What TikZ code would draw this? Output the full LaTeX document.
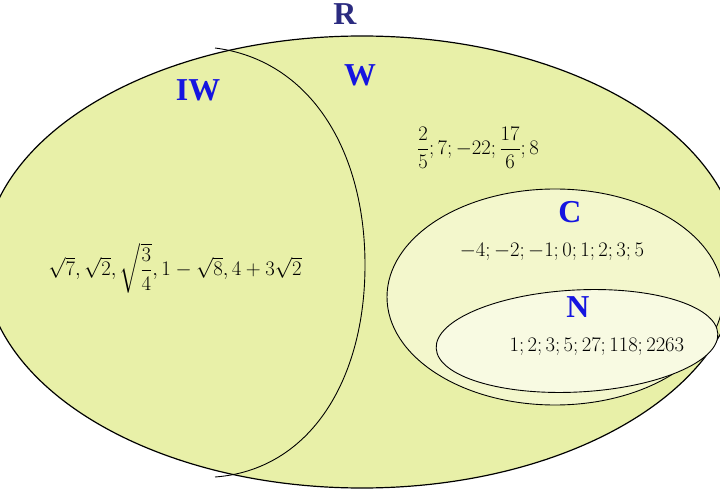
\documentclass[tikz,border=0pt]{standalone}
\usepackage{amsmath}
\usepackage{fontspec}
\setmainfont{Liberation Serif}
\usepackage{tikz}
\definecolor{setR}{HTML}{E8F0A8}
\definecolor{setC}{HTML}{F3F7CC}
\definecolor{setN}{HTML}{F8FAE2}
\definecolor{navy}{HTML}{2B2B80}
\definecolor{lblue}{HTML}{1515E0}
\tikzset{
  setline/.style={draw=black, line width=0.9pt},
  setname/.style={font=\fontsize{32}{34}\selectfont\bfseries, text=lblue},
  elems/.style={font=\fontsize{20}{24}\selectfont}
}
\begin{document}
\begin{tikzpicture}[x=1bp,y=-1bp]
        \useasboundingbox (0,0) rectangle (720,500);
        %ELLIPS R
        \coordinate (cR) at (362,262);
        \begin{scope}
          \clip (0,0) rectangle (720,500);
          \fill[setR] (cR) ellipse [x radius=378, y radius=226];
          \draw[setline, line width=1.2pt] (cR) ellipse [x radius=378, y radius=226];
          %IW
          \draw[setline] (215,48) .. controls (310,60) and (365,150) .. (365,265) .. controls (365,380) and (310,470) .. (215,477);
          %C dan N
          \draw[setline, fill=setC] (555,297) ellipse [x radius=168, y radius=108];
          \draw[setline, fill=setN, rotate around={3:(577,341)}] (577,341) ellipse [x radius=141, y radius=51];
        \end{scope}
        %LABEL
        \node[setname, text=navy] (R) at (345,14) {R};
        \node[setname] (IW) at (198,90) {IW};
        \node[setname] (W) at (360,75) {W};
        \node[setname] (C) at (570,212) {C};
        \node[setname] (N) at (578,307) {N};
        %ELEMEN
        \node[elems] (eW) at (478,148) {$\dfrac{2}{5};7;-22;\dfrac{17}{6};8$};
        \node[elems] (eIW) at (175,268) {$\sqrt{7},\sqrt{2},\sqrt{\dfrac{3}{4}},1-\sqrt{8},4+3\sqrt{2}$};
        \node[elems] (eC) at (552,252) {$-4;-2;-1;0;1;2;3;5$};
        \node[elems] (eN) at (597,347) {$1;2;3;5;27;118;2263$};
\end{tikzpicture}
\end{document}
